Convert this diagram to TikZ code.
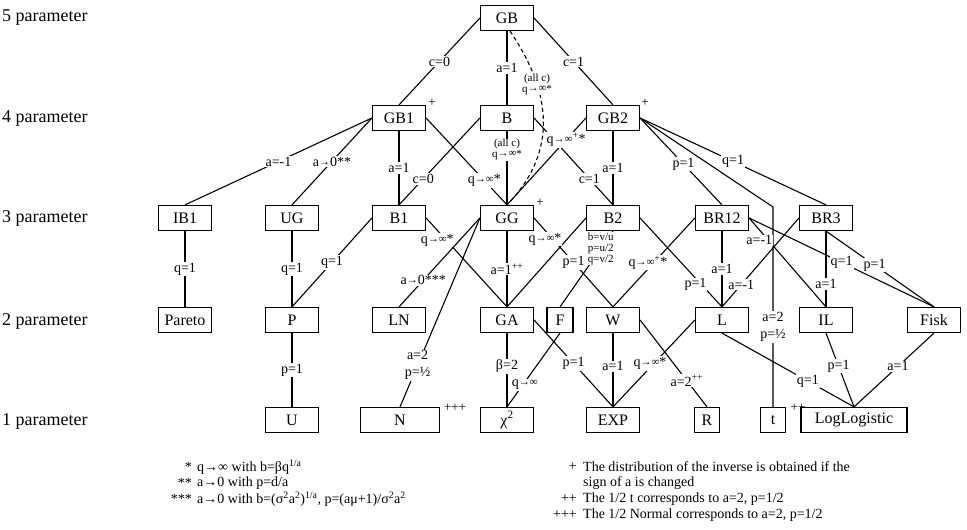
\documentclass[tikz,border=0pt]{standalone}
\usepackage{fontspec}
\setmainfont{Liberation Serif}
\newcommand{\sarr}{\raisebox{0.15ex}{\fontsize{11}{11}\selectfont →}}
\newcommand{\qinf}{q\raisebox{0.15ex}{\fontsize{11}{11}\selectfont →∞}}
\begin{document}
\begin{tikzpicture}[x=1pt,y=-1pt,
  box/.style={draw,line width=1.2pt,minimum width=53pt,minimum height=25pt,inner sep=1pt,font=\fontsize{16}{18}\selectfont},
  conn/.style={line width=1.1pt},
  lab/.style={fill=white,inner sep=1pt,font=\fontsize{14}{16}\selectfont},
  stacklab/.style={fill=white,inner sep=1pt,align=center,font=\fontsize{14}{17}\selectfont},
  smalllab/.style={fill=white,inner sep=0.5pt,align=center,font=\fontsize{11}{11}\selectfont},
  rowlab/.style={anchor=west,inner sep=0pt,font=\fontsize{18}{20}\selectfont},
  plusmark/.style={inner sep=0pt,font=\fontsize{13}{13}\selectfont},
  legm/.style={anchor=east,inner sep=0pt,font=\fontsize{14}{16}\selectfont},
  legt/.style={anchor=west,inner sep=0pt,font=\fontsize{14}{16}\selectfont}]
\useasboundingbox (0,0) rectangle (967,530);

% row labels
\node[rowlab] (r5) at (2,18) {5 parameter};
\node[rowlab] (r4) at (2,118) {4 parameter};
\node[rowlab] (r3) at (2,218) {3 parameter};
\node[rowlab] (r2) at (2,321) {2 parameter};
\node[rowlab] (r1) at (2,421) {1 parameter};

% level 5
\node[box] (GB) at (507,18) {GB};
% level 4
\node[box] (GBone) at (399,118) {GB1};
\node[box] (B) at (507,118) {B};
\node[box] (GBtwo) at (613,118) {GB2};
% level 3
\node[box] (IBone) at (185,218) {IB1};
\node[box] (UG) at (292,218) {UG};
\node[box] (Bone) at (399,218) {B1};
\node[box] (GG) at (507,218) {GG};
\node[box] (Btwo) at (613,218) {B2};
\node[box] (BRot) at (722,218) {BR12};
\node[box] (BRthree) at (826,218) {BR3};
% level 2
\node[box] (Pareto) at (185,320) {Pareto};
\node[box] (P) at (292,320) {P};
\node[box] (LN) at (399,320) {LN};
\node[box] (GA) at (507,320) {GA};
\node[box,minimum width=26pt] (F) at (560,320) {F};
\node[box] (W) at (613,320) {W};
\node[box] (L) at (722,320) {L};
\node[box] (IL) at (826,320) {IL};
\node[box] (Fisk) at (934,320) {Fisk};
% level 1
\node[box] (U) at (292,420) {U};
\node[box,minimum width=79pt] (N) at (400,420) {N};
\node[box] (chi) at (507,420) {χ\textsuperscript{2}};
\node[box] (EXP) at (613,420) {EXP};
\node[box,minimum width=25pt] (R) at (707,420) {R};
\node[box,minimum width=25pt] (t) at (773,420) {t};
\node[box,minimum width=106pt] (LL) at (854,420) {LogLogistic};

% plus marks
\node[plusmark] (pGBone) at (432,103) {+};
\node[plusmark] (pGBtwo) at (645,103) {+};
\node[plusmark] (pGG) at (540,203) {+};
\node[plusmark] (pN) at (455,408) {+++};
\node[plusmark] (pt) at (798,408) {++};

\coordinate (tb) at (773,207);

% level 5 -> 4
\draw[conn] (GB.west) -- node[lab]{c=0} (GBone.north);
\draw[conn] (GB.south) -- node[lab]{a=1} (B.north);
\draw[conn] (GB.east) -- node[lab]{c=1} (GBtwo.north);
\draw[conn,dash pattern=on 4pt off 3pt] ([xshift=3pt]GB.south) .. controls (550,90) and (560,150) .. (GG.north)
  node[smalllab,pos=0.3]{(all c)\\\qinf*};

% level 4 -> 3
\draw[conn] (GBone.west) -- node[lab]{a=-1} (IBone.north);
\draw[conn] (GBone.west) -- node[lab]{a\sarr0**} (UG.north);
\draw[conn] (GBone.south) -- node[lab]{a=1} (Bone.north);
\draw[conn] (GBone.east) -- node[lab,pos=.72]{\qinf*} (GG.north);
\draw[conn] (B.west) -- node[lab,pos=.7]{c=0} (Bone.north);
\draw[conn] (B.south) -- node[smalllab,pos=.25]{(all c)\\\qinf*} (GG.north);
\draw[conn] (B.east) -- node[lab,pos=.7]{c=1} (Btwo.north);
\draw[conn] (GBtwo.west) -- node[lab,pos=.25]{\qinf\textsuperscript{+}*} (GG.north);
\draw[conn] (GBtwo.south) -- node[lab]{a=1} (Btwo.north);
\draw[conn] (GBtwo.east) -- node[lab,pos=.53]{p=1} (BRot.north);
\draw[conn] (GBtwo.east) -- node[lab]{q=1} (BRthree.north);
\draw[conn] (GBtwo.east) -- (tb) -- node[stacklab,pos=.6]{a=2\\p=½} (t.north);

% level 3 -> 2
\draw[conn] (IBone.south) -- node[lab]{q=1} (Pareto.north);
\draw[conn] (UG.south) -- node[lab]{q=1} (P.north);
\draw[conn] (Bone.west) -- node[lab]{q=1} (P.north);
\draw[conn] (Btwo.west) -- (GA.north);
\draw[conn] (Bone.east) -- node[lab,pos=.25,xshift=-9pt]{\qinf*} (GA.north);
\draw[conn] (GG.west) -- node[lab,pos=.7]{a\sarr0***} (LN.north);
\draw[conn] (GG.west) -- node[stacklab,pos=.78]{a=2\\p=½} (N.north);
\draw[conn] (GG.south) -- node[lab]{a=1\textsuperscript{++}} (GA.north);
\draw[conn] (GG.east) -- node[lab,pos=.24,xshift=-8pt]{\qinf*} node[lab,pos=.5]{p=1} (W.north);
\draw[conn] (Btwo.south) -- node[smalllab,pos=.23]{b=v/u\\p=u/2\\q=v/2} (F.north);
\draw[conn] (Btwo.east) -- node[lab,pos=.75,xshift=-6pt]{p=1} (L.north);
\draw[conn] (BRot.west) -- node[lab,pos=.5,xshift=-6pt]{\qinf\textsuperscript{+}*} (W.north);
\draw[conn] (BRot.south) -- node[lab]{a=1} (L.north);
\draw[conn] (BRthree.west) -- node[lab,pos=.75]{a=-1} (L.north);
\draw[conn] (BRot.east) -- node[lab,pos=.25,xshift=-9pt]{a=-1} (IL.north);
\draw[conn] (BRot.east) -- node[lab,pos=.5]{q=1} (Fisk.north);
\draw[conn] (BRthree.south) -- node[lab,pos=.7]{a=1} (IL.north);
\draw[conn] (BRthree.south) -- node[lab,pos=.45]{p=1} (Fisk.north);

% level 2 -> 1
\draw[conn] (P.south) -- node[lab]{p=1} (U.north);
\draw[conn] (GA.south) -- node[lab,pos=.45]{β=2} (chi.north);
\draw[conn] (F.south) -- node[lab,pos=.7,xshift=2pt]{\qinf} (chi.north);
\draw[conn] (GA.east) -- node[lab]{p=1} (EXP.north);
\draw[conn] (W.south) -- node[lab,pos=.45]{a=1} (EXP.north);
\draw[conn] (L.west) -- node[lab,pos=.5,xshift=-4pt]{\qinf*} (EXP.north);
\draw[conn] (W.east) -- node[lab,pos=.7]{a=2\textsuperscript{++}} (R.north);
\draw[conn] (L.south) -- node[lab,pos=.65]{q=1} (LL.north);
\draw[conn] (IL.south) -- node[lab,pos=.45]{p=1} (LL.north);
\draw[conn] (Fisk.south) -- node[lab,pos=.45]{a=1} (LL.north);

% legend left
\node[legm] (m1) at (192,467) {*};
\node[legt] (l1) at (197,467) {q→∞ with b=βq\textsuperscript{1/a}};
\node[legm] (m2) at (192,483) {**};
\node[legt] (l2) at (197,483) {a→0 with p=d/a};
\node[legm] (m3) at (192,499) {***};
\node[legt] (l3) at (197,499) {a→0 with b=(σ\textsuperscript{2}a\textsuperscript{2})\textsuperscript{1/a}, p=(aμ+1)/σ\textsuperscript{2}a\textsuperscript{2}};
% legend right
\node[legm] (m4) at (577,467) {+};
\node[legt] (l4) at (583,467) {The distribution of the inverse is obtained if the};
\node[legt] (l5) at (583,483) {sign of a is changed};
\node[legm] (m6) at (577,499) {++};
\node[legt] (l6) at (583,499) {The 1/2 t corresponds to a=2, p=1/2};
\node[legm] (m7) at (577,515) {+++};
\node[legt] (l7) at (583,515) {The 1/2 Normal corresponds to a=2, p=1/2};
\end{tikzpicture}
\end{document}
